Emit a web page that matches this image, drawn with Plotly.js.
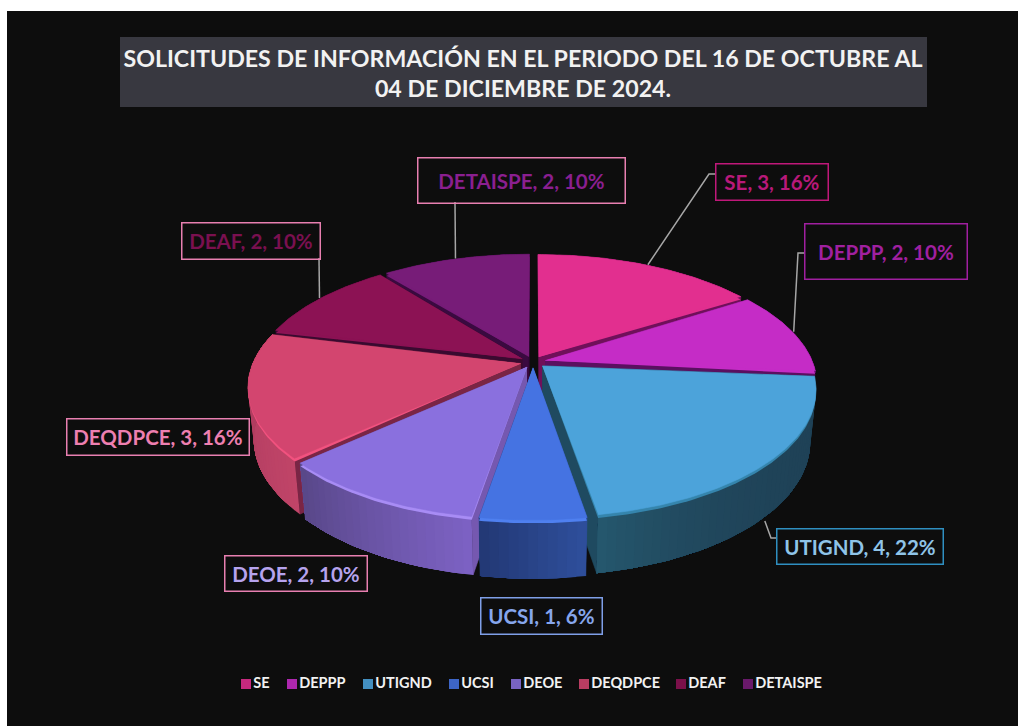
<!DOCTYPE html>
<html><head><meta charset="utf-8">
<script src="https://cdn.plot.ly/plotly-3.0.1.min.js"></script>
<style>html,body{margin:0;padding:0;background:#fff}#c{width:1018px;height:726px}</style>
</head><body><div id="c"></div>
<script>
// Data
const categories = ['SE','DEPPP','UTIGND','UCSI','DEOE','DEQDPCE','DEAF','DETAISPE'];
const counts = [3,2,4,1,2,3,2,2];
const percentLabels = ['16%','10%','22%','6%','10%','16%','10%','10%'];
// Styles
const topColors = ['#e22f8f','#c52cc6','#4ca3da','#4573e2','#8a70de','#d3456f','#8c1254','#771c78'];
const rimColors = ['#e22f8f','#c52cc6','#3585ad','#4f80f0','#a88cf5','#f2527f','#8c1254','#771c78'];
const wallFrom  = ['#70105a','#5a1060','#25586e','#2f4f9c','#7d62c4','#c04468','#3a0a30','#3a0a40'];
const wallTo    = ['#70105a','#5a1060','#1f4257','#223874','#584788','#a83a5c','#3a0a30','#3a0a40'];
const cutColors = ['#70105a','#5a1060','#1f4a60','#2f4f9c','#7558b0','#7a2545','#3a0a30','#3a0a40'];
const labelColors = ['#b8197a','#a020a0','#8fc4e8','#86a6ec','#b6a3ee','#ee7fb0','#7a1050','#8a1f90'];
const labelBorders = ['#c0187a','#a01fa0','#2f8fc0','#7f9fe8','#e87fb0','#e87fb0','#e87fb0','#e87fb0'];
// Label boxes [left, top, right, bottom] and legend swatch positions
const labelBoxes = [[716,164,827,199],[805,224,966,278],[777,529,942,563],[481,598,601,633],[225,556,366,590],[67,419,248,454],[182,223,319,258],[418,158,624,202]];
const legendX = [246,292,368,454,516,584,681,748];
// Projection parameters
const cx=533, cy=362, A=280, B=128.3, K=0.188, H=52, M=0.02, R=0.955, D=0.045;

const total = counts.reduce((a,b)=>a+b,0);
function proj(X,Y,z){const w=1+K*Y+M*z;return [cx+A*X/w, cy-B*Y/w+H*z/w];}
let cum=0;
const slices=categories.map((n,i)=>{const a0=cum/total*2*Math.PI;cum+=counts[i];const a1=cum/total*2*Math.PI;
  const mid=(a0+a1)/2;return {i,a0,a1,mid,ox:D*Math.sin(mid),oy:D*Math.cos(mid)};});
function pt(s,r,a,z){return proj(s.ox+r*Math.sin(a),s.oy+r*Math.cos(a),z);}
function hex(c){return [1,3,5].map(k=>parseInt(c.substr(k,2),16));}
function mix(a,b,t){const x=hex(a),y=hex(b);return 'rgb('+x.map((v,k)=>Math.round(v+(y[k]-v)*t)).join(',')+')';}
const traces=[];
function poly(pts,color,name,lw){traces.push({type:'scatter',mode:'lines',x:pts.map(p=>p[0]),y:pts.map(p=>p[1]),fill:'toself',fillcolor:color,
  line:{color:color,width:lw===undefined?0.6:lw},hoverinfo:'text',text:name,showlegend:false});}
function arc(s,z,n){const o=[];for(let k=0;k<=n;k++)o.push(pt(s,R,s.a0+(s.a1-s.a0)*k/n,z));return o;}
// Painter order: far slices first
[...slices].sort((p,q)=>q.oy-p.oy).forEach(s=>{
  const i=s.i,name=categories[i];
  [s.a0,s.a1].forEach(a=>poly([pt(s,0,0,0),pt(s,R,a,0),pt(s,R,a,1),pt(s,0,0,1)],cutColors[i],name));
  const n=Math.max(6,Math.round((s.a1-s.a0)/0.03));
  // Outer wall: overlapping strips so no seams show
  for(let k=0;k<n;k++){const a=s.a0+(s.a1-s.a0)*k/n,b=s.a1;
    const t=(k+0.5)/n;const c=mix(wallFrom[i],wallTo[i],s.mid<Math.PI?1-Math.pow(t,4):t);
    const m=Math.max(2,n-k);const seg=[];for(let j=0;j<=m;j++)seg.push(a+(b-a)*j/m);
    poly([...seg.map(v=>pt(s,R,v,0)),...seg.slice().reverse().map(v=>pt(s,R,v,1))],c,name,0);}
  // Bevel along the front rim, then the top face
  poly([pt(s,0,0,0),...arc(s,0.055,n*2)],rimColors[i],name,0);
  poly([pt(s,0,0,0),...arc(s,0,n*2)],topColors[i],name);
});
// Leader lines from slice rim midpoints to their label boxes
function leader(i,z,route){const s=slices[i],p=pt(s,R+0.005,s.mid,z);const pts=[p,...route];
  traces.push({type:'scatter',mode:'lines',x:pts.map(q=>q[0]),y:pts.map(q=>q[1]),line:{color:'#a6a6a6',width:1.5},hoverinfo:'skip',showlegend:false});}
const b=labelBoxes;
leader(0,0,[[709,174],[b[0][0],174]]);
leader(1,0,[[798,253],[b[1][0],253]]);
leader(2,1.05,[[771,538],[b[2][0],538]]);
leader(6,0,[[319,b[6][3]]]);
leader(7,0,[[455,b[7][3]]]);
// Legend row
traces.push({type:'scatter',mode:'markers+text',x:legendX,y:categories.map(()=>684),text:categories,textposition:'middle right',
  textfont:{family:'Lato, sans-serif',size:14.5,color:'#f2f2f2',weight:700},
  marker:{symbol:'square',size:10,color:topColors.map(c=>mix(c,'#000000',0.12))},hoverinfo:'text',showlegend:false});

const annotations=categories.map((n,i)=>{const q=labelBoxes[i];return {x:(q[0]+q[2])/2,y:(q[1]+q[3])/2,xref:'x',yref:'y',showarrow:false,
  text:'<b>'+n+', '+counts[i]+', '+percentLabels[i]+'</b>',font:{family:'Lato, sans-serif',size:20.5,color:labelColors[i]},
  width:q[2]-q[0],height:q[3]-q[1],bordercolor:labelBorders[i],borderwidth:1.5,borderpad:0,align:'center',valign:'middle',bgcolor:'rgba(0,0,0,0)'};});

const layout={width:1018,height:726,margin:{l:0,r:0,t:0,b:0},paper_bgcolor:'#ffffff',plot_bgcolor:'rgba(0,0,0,0)',showlegend:false,
  xaxis:{range:[0,1018],visible:false,fixedrange:true},yaxis:{range:[726,0],visible:false,fixedrange:true},
  title:{text:'<b>SOLICITUDES DE INFORMACIÓN EN EL PERIODO DEL 16 DE OCTUBRE AL<br>04 DE DICIEMBRE DE 2024.</b>',
    font:{family:'Lato, sans-serif',size:23.2,color:'#f2f2f2'},x:523/1018,xanchor:'center',y:1-67/726,yanchor:'middle',xref:'paper',yref:'paper'},
  shapes:[{type:'rect',layer:'below',xref:'x',yref:'y',x0:7,x1:1018,y0:11,y1:726,fillcolor:'#0d0d0d',line:{width:0}},
          {type:'rect',layer:'below',xref:'x',yref:'y',x0:120,x1:927,y0:37,y1:107,fillcolor:'#383840',line:{width:0}}],
  annotations};
Plotly.newPlot('c',traces,layout,{displayModeBar:false});
</script></body></html>
